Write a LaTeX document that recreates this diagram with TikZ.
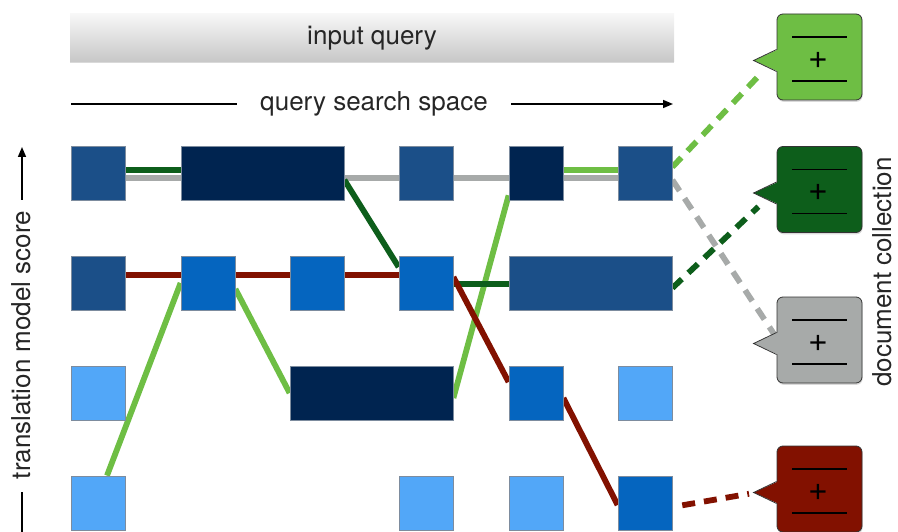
\documentclass[tikz,border=0pt]{standalone}
\usepackage{fontspec}
\setmainfont{TeX Gyre Heros}
\usetikzlibrary{arrows.meta,shadows,calc}

\definecolor{medblue}{RGB}{27,79,136}
\definecolor{navy}{RGB}{0,36,80}
\definecolor{brightblue}{RGB}{5,101,191}
\definecolor{lightblue}{RGB}{82,167,248}
\definecolor{blkedge}{RGB}{125,140,158}
\definecolor{lgreen}{RGB}{110,190,68}
\definecolor{dgreen}{RGB}{13,94,27}
\definecolor{dred}{RGB}{130,17,0}
\definecolor{lgray}{RGB}{167,170,169}

\pgfdeclarelayer{back}
\pgfsetlayers{back,main}

\tikzset{
  blk/.style={draw=blkedge, line width=0.8pt, minimum width=54pt, minimum height=54pt, inner sep=0pt},
  wideblk/.style={blk, minimum width=163pt},
  link/.style={line width=5.8pt},
  dlink/.style={line width=5.8pt, dash pattern=on 13pt off 9pt},
  axis/.style={line width=1.5pt, black},
  bigtext/.style={font=\fontsize{26}{30}\selectfont, text=black!85, inner sep=0pt},
  qbar/.style={bigtext, top color=black!3, bottom color=black!22, minimum width=604pt, minimum height=48pt,
    drop shadow={shadow xshift=0pt, shadow yshift=-1.5pt, opacity=0.3}},
  bubble/.style={draw=black!80, line width=0.8pt, rounded corners=6pt, minimum width=85pt, minimum height=86pt,
    inner sep=0pt, drop shadow={shadow xshift=0.6pt, shadow yshift=-1.8pt, opacity=0.3}},
}

\begin{document}
\begin{tikzpicture}[x=1pt,y=1pt,yscale=-1]
\useasboundingbox (0,0) rectangle (898,532);

% Input bar
\node[qbar] (inq) at (372,38) {input query};

% Search space arrow
\node[bigtext] (qspace) at (374,104) {query search space};
\coordinate (qs-l) at (71,104);
\coordinate (qs-lm) at (237,104);
\coordinate (qs-rm) at (511,104);
\coordinate (qs-r) at (673,104);
\draw[axis] (qs-l) -- (qs-lm);
\draw[axis,-{Triangle[length=10pt,width=8pt]}] (qs-rm) -- (qs-r);

% Score axis
\node[bigtext, rotate=90] (tmscore) at (21,345) {translation model score};
\coordinate (tm-b) at (22,532);
\coordinate (tm-bm) at (22,492);
\coordinate (tm-tm) at (22,200);
\coordinate (tm-t) at (22,147);
\draw[axis] (tm-b) -- (tm-bm);
\draw[axis,-{Triangle[length=10pt,width=8pt]}] (tm-tm) -- (tm-t);

% Text Node
\node[bigtext, rotate=90] (doccoll) at (882,272) {document collection};

% Blocks
\foreach \n/\x/\y/\col in {b11/98/173/medblue, b14/426/173/medblue, b15/536/173/navy, b16/645/173/medblue,
    b21/98/283/medblue, b22/208/283/brightblue, b23/317/283/brightblue, b24/426/283/brightblue,
    b31/98/393/lightblue, b35/536/393/brightblue, b36/645/393/lightblue,
    b41/98/503/lightblue, b44/426/503/lightblue, b45/536/503/lightblue, b46/645/503/brightblue}
  \node[blk, fill=\col] (\n) at (\x,\y) {};
\node[wideblk, fill=navy] (b12) at (262.5,173) {};
\node[wideblk, fill=medblue] (b25) at (590.5,283) {};
\node[wideblk, fill=navy] (b33) at (371.5,393) {};

% Documents
\foreach \n/\col/\yc in {1/lgreen/57, 2/dgreen/189.5, 3/lgray/340, 4/dred/489}{
  \node[bubble, fill=\col] (bub\n) at (819.5,\yc) {};
  \fill[\col] ($(bub\n.west)+(1.5,-7.5)$) -- ($(bub\n.west)+(-23,3.5)$) -- ($(bub\n.west)+(1.5,14.5)$) -- cycle;
  \draw[black!80, line width=0.8pt, line join=miter] ($(bub\n.west)+(0,-7.5)$) -- ($(bub\n.west)+(-23,3.5)$) -- ($(bub\n.west)+(0,14.5)$);
  \draw[line width=1.4pt] ($(bub\n.center)+(-27.5,-20)$) -- ++(55,0);
  \draw[line width=1.4pt] ($(bub\n.center)+(-27.5,24)$) -- ++(55,0);
  \node[font=\fontsize{34}{36}\selectfont, inner sep=0pt] (plus\n) at ($(bub\n.center)+(-1.5,3)$) {+};
}

% Paths
\begin{pgfonlayer}{back}
% gray
\draw[link, lgray] ($(b11.east)+(0,5)$) -- ($(b12.west)+(0,5)$);
\draw[link, lgray] ($(b12.east)+(0,5)$) -- ($(b14.west)+(0,5)$);
\draw[link, lgray] ($(b14.east)+(0,5)$) -- ($(b15.west)+(0,5)$);
\draw[link, lgray] ($(b15.east)+(0,5)$) -- ($(b16.west)+(0,5)$);
\draw[dlink, lgray] ($(b16.east)+(0,7)$) -- ($(bub3.west)+(0,-2)$);
% light green
\draw[link, lgreen] ($(b41.north)+(9,0)$) -- (b22.west);
\draw[link, lgreen] ($(b22.east)+(0,6)$) -- (b33.west);
\draw[link, lgreen] ($(b33.east)+(0,5)$) -- ($(b15.south west)+(0,-5)$);
\draw[link, lgreen] ($(b15.east)+(0,-3)$) -- ($(b16.west)+(0,-3)$);
\draw[dlink, lgreen, shorten >=24pt] ($(b16.east)+(0,-6)$) -- (bub1.west);
% dark green
\draw[link, dgreen] ($(b11.east)+(0,-3)$) -- ($(b12.west)+(0,-3)$);
\draw[link, dgreen] ($(b12.east)+(0,7)$) -- ($(b24.west)+(0,-16)$);
\draw[link, dgreen] ($(b24.east)+(0,1)$) -- ($(b25.west)+(0,1)$);
\draw[dlink, dgreen, shorten >=25pt] ($(b25.east)+(0,5)$) -- (bub2.west);
% dark red
\draw[link, dred] ($(b21.east)+(0,-8)$) -- ($(b22.west)+(0,-8)$);
\draw[link, dred] ($(b22.east)+(0,-8)$) -- ($(b23.west)+(0,-8)$);
\draw[link, dred] ($(b23.east)+(0,-8)$) -- ($(b24.west)+(0,-8)$);
\draw[link, dred] ($(b24.east)+(0,-6)$) -- ($(b35.west)+(0,-11)$);
\draw[link, dred] ($(b35.east)+(0,5)$) -- ($(b46.west)+(0,2)$);
\draw[dlink, dred, shorten <=10pt, shorten >=28pt] ($(b46.east)+(0,4)$) -- (bub4.west);
\end{pgfonlayer}

\end{tikzpicture}
\end{document}
